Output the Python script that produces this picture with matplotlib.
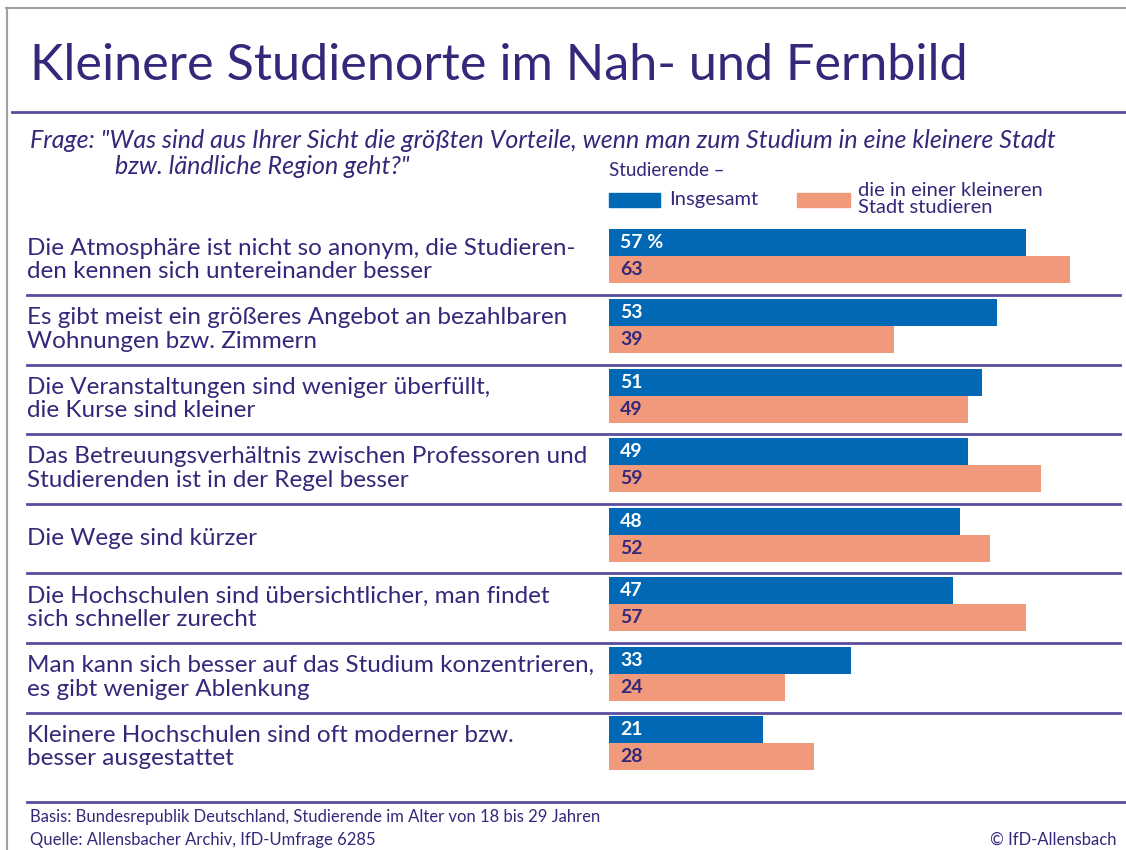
import matplotlib
matplotlib.use("Agg")
import matplotlib.pyplot as plt
from matplotlib.transforms import blended_transform_factory
import numpy as np

plt.rcParams['font.family'] = ['Lato', 'DejaVu Sans']

categories = [
    "Die Atmosphäre ist nicht so anonym, die Studieren-\nden kennen sich untereinander besser",
    "Es gibt meist ein größeres Angebot an bezahlbaren\nWohnungen bzw. Zimmern",
    "Die Veranstaltungen sind weniger überfüllt,\ndie Kurse sind kleiner",
    "Das Betreuungsverhältnis zwischen Professoren und\nStudierenden ist in der Regel besser",
    "Die Wege sind kürzer",
    "Die Hochschulen sind übersichtlicher, man findet\nsich schneller zurecht",
    "Man kann sich besser auf das Studium konzentrieren,\nes gibt weniger Ablenkung",
    "Kleinere Hochschulen sind oft moderner bzw.\nbesser ausgestattet",
]
insgesamt = [57, 53, 51, 49, 48, 47, 33, 21]
kleinstadt = [63, 39, 49, 59, 52, 57, 24, 28]

series_names = ["Insgesamt", "die in einer kleineren\nStadt studieren"]

BLUE = "#0068b4"
ORANGE = "#f1997b"
TEXT = "#33287a"
LINE = "#5a4c9e"

W, H = 1126, 850
fig = plt.figure(figsize=(W / 100, H / 100), dpi=100)

# frame lines at the top and left edge
fig.add_artist(plt.Line2D([6 / W, 1], [1 - 8 / H, 1 - 8 / H], color="#a0a0a0", lw=1.5))
fig.add_artist(plt.Line2D([7 / W, 7 / W], [0, 1 - 8 / H], color="#a0a0a0", lw=1.5))

fig.text(30 / W, 1 - 66 / H, "Kleinere Studienorte im Nah- und Fernbild",
         fontsize=36.3, color=TEXT, va="center", ha="left")
fig.add_artist(plt.Line2D([12 / W, 1], [1 - 112 / H, 1 - 112 / H], color=LINE, lw=2))

fig.text(30 / W, 1 - 141 / H,
         'Frage: "Was sind aus Ihrer Sicht die größten Vorteile, wenn man zum Studium in eine kleinere Stadt',
         fontsize=18, style="italic", color=TEXT, va="center")
fig.text(115 / W, 1 - 166 / H, 'bzw. ländliche Region geht?"',
         fontsize=18, style="italic", color=TEXT, va="center")

# bars axes: 7.32 px per percentage point, starting at x=609
x0 = 609
px_per = 7.32
row_top = 221.7
pitch = 69.57
ax = fig.add_axes([x0 / W, 1 - (row_top + 8 * pitch) / H, (W - x0) / W, 8 * pitch / H])
ax.set_xlim(0, (W - x0) / px_per)
ax.set_ylim(7.5, -0.5)
ax.axis("off")

y = np.arange(len(categories))
bh = 27 / pitch
ax.barh(y - bh / 2, insgesamt, height=bh, color=BLUE)
ax.barh(y + bh / 2, kleinstadt, height=bh, color=ORANGE)

for i, (a, b) in enumerate(zip(insgesamt, kleinstadt)):
    ax.text(1.5, i - bh / 2, f"{a} %" if i == 0 else f"{a}", color="white",
            fontsize=14, fontweight="bold", va="center", ha="left")
    ax.text(1.5, i + bh / 2, f"{b}", color=TEXT,
            fontsize=14, fontweight="bold", va="center", ha="left")

tr = blended_transform_factory(fig.transFigure, ax.transData)
for i, label in enumerate(categories):
    ax.text(27 / W, i + 0.05, label, transform=tr, fontsize=17.5, color=TEXT,
            va="center", ha="left", linespacing=1.15)
for i in range(len(categories) - 1):
    ax.plot([27 / W, 1120 / W], [i + 0.555, i + 0.555], transform=tr,
            color=LINE, lw=2, clip_on=False)
ax.plot([27 / W, 1], [7.84, 7.84], transform=tr, color=LINE, lw=2, clip_on=False)

# legend
fig.text(609 / W, 1 - 171 / H, "Studierende –", fontsize=13.5, color=TEXT, va="center")
fig.patches.append(plt.Rectangle((609 / W, 1 - 207 / H), 51 / W, 14 / H,
                                 color=BLUE, transform=fig.transFigure))
fig.text(669 / W, 1 - 199 / H, series_names[0], fontsize=14.5, color=TEXT, va="center")
fig.patches.append(plt.Rectangle((797 / W, 1 - 207 / H), 53 / W, 14 / H,
                                 color=ORANGE, transform=fig.transFigure))
fig.text(858 / W, 1 - 199 / H, series_names[1], fontsize=14.5, color=TEXT,
         va="center", linespacing=0.95)

# footer
fig.text(30 / W, 1 - 817 / H, "Basis: Bundesrepublik Deutschland, Studierende im Alter von 18 bis 29 Jahren",
         fontsize=12, color=TEXT, va="center")
fig.text(30 / W, 1 - 840 / H, "Quelle: Allensbacher Archiv, IfD-Umfrage 6285",
         fontsize=12, color=TEXT, va="center")
fig.text(1116 / W, 1 - 840 / H, "© IfD-Allensbach", fontsize=12, color=TEXT,
         va="center", ha="right")

fig.savefig("out.png", dpi=100)
